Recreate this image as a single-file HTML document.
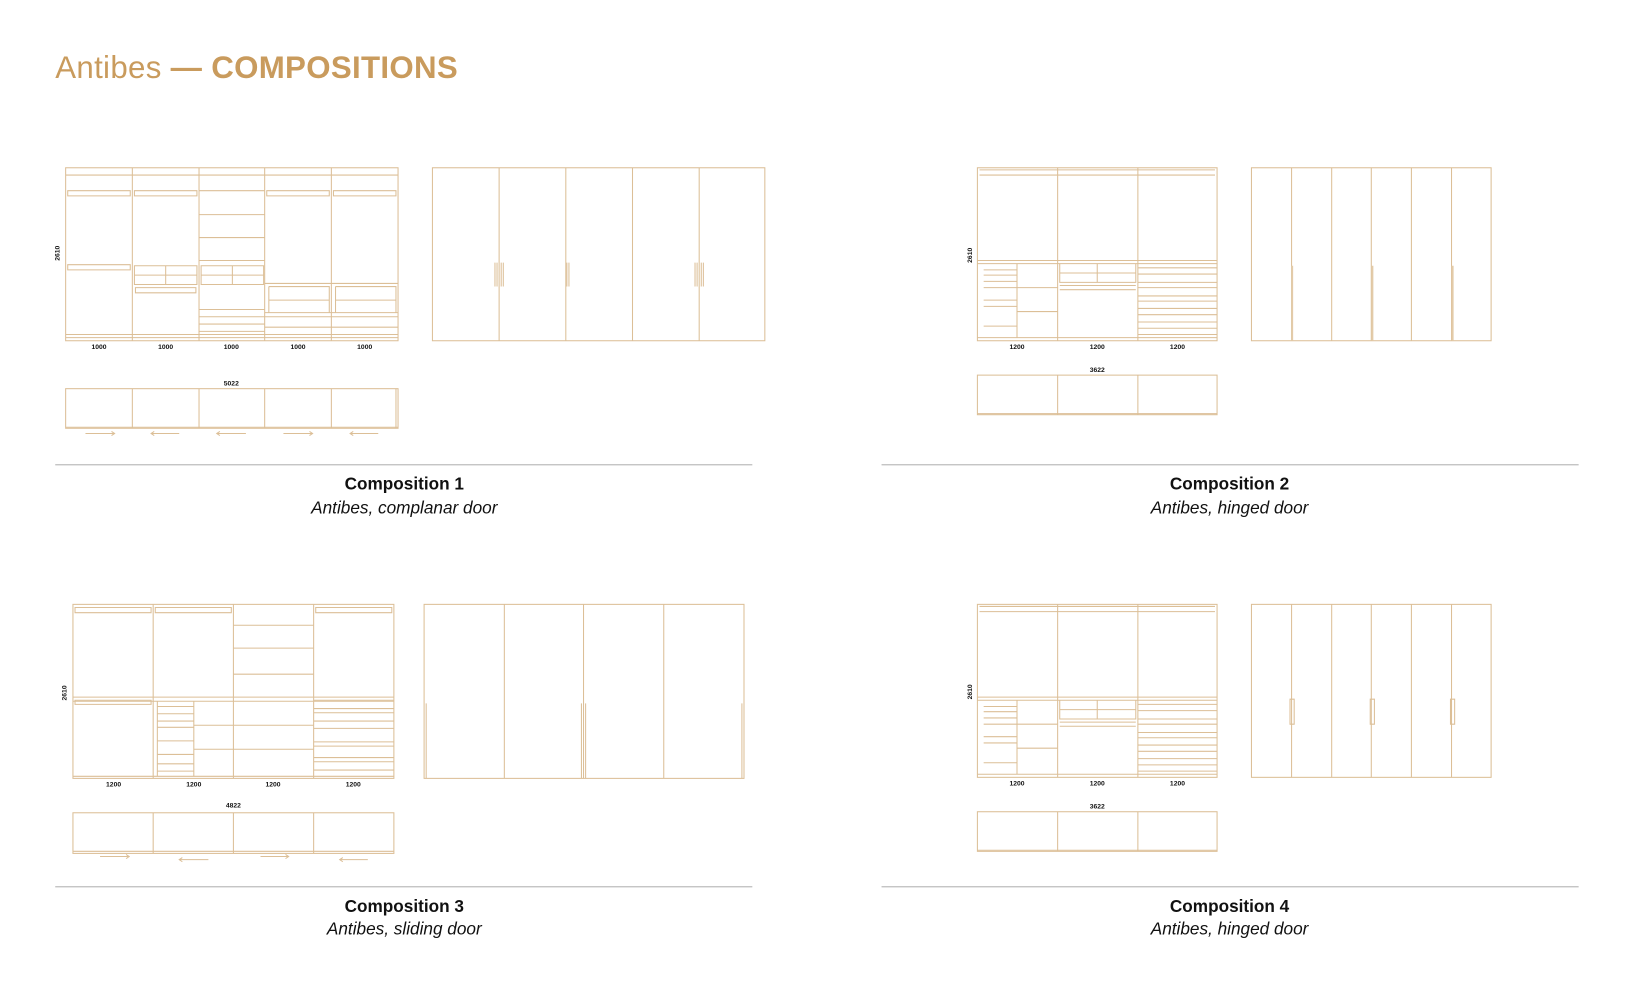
<!DOCTYPE html>
<html><head><meta charset="utf-8"><style>
html,body{margin:0;padding:0;background:#fff;}
svg{display:block}
.l{stroke:#dcbf97;stroke-width:1;fill:none}
.t{stroke:#e3cba9;stroke-width:2;fill:none}
.d{font-family:"Liberation Sans",sans-serif;font-size:6.5px;font-weight:bold;fill:#111;text-anchor:middle}
.h{font-family:"Liberation Sans",sans-serif;font-size:16.5px;font-weight:bold;fill:#111;text-anchor:middle}
.s{font-family:"Liberation Sans",sans-serif;font-size:16.5px;font-style:italic;fill:#111;text-anchor:middle}
</style></head><body>
<svg width="1637" height="992" viewBox="0 0 1571 952" preserveAspectRatio="none" xmlns="http://www.w3.org/2000/svg">
<defs>
<g id="f3">
 <rect class="l" x="938" y="161" width="230" height="166"/>
 <path class="l" d="M1015 161V327M1092 161V327M940 163H1166M940 168H1166M938 250H1168M938 253H1168M938 324H1168"/>
 <path class="l" d="M976 253V324M944 259H976M944 264H976M944 270H976M944 276H976M944 288H976M944 294H976M944 313H976M976 276H1015M976 299H1015"/>
 <path class="l" d="M1017 253V271H1090V253M1053 253V271M1017 262H1090M1017 274H1090M1017 278H1090"/>
 <path class="l" d="M1092 257H1168M1092 263H1168M1092 271H1168M1092 276H1168M1092 284H1168M1092 289H1168M1092 296H1168M1092 302H1168M1092 309H1168M1092 315H1168M1092 321H1168"/>
 <text class="d" x="976" y="335">1200</text><text class="d" x="1053" y="335">1200</text><text class="d" x="1130" y="335">1200</text>
 <text class="d" transform="translate(933,245) rotate(-90)">2610</text>
 <text class="d" x="1053" y="357">3622</text>
 <rect class="l" x="938" y="360" width="230" height="38"/>
 <path class="l" d="M1015 360V398M1092 360V398M938 397H1168"/>
 <rect class="l" x="1201" y="161" width="230" height="166"/>
 <path class="l" d="M1239.5 161V327M1278 161V327M1316 161V327M1354.5 161V327M1393 161V327"/>
</g>
</defs>

<text x="53" y="75" font-family="Liberation Sans, sans-serif" font-size="30" letter-spacing="0.3" fill="#c99b5d"><tspan>Antibes </tspan><tspan font-weight="bold">— COMPOSITIONS</tspan></text>

<!-- Composition 1 -->
<rect class="l" x="63" y="161" width="319" height="166"/>
<path class="l" d="M127 161V327M191 161V327M254 161V327M318 161V327M63 168H382M63 321H382M63 324H382"/>
<path class="l" d="M65 183H125V188H65ZM129 183H189V188H129ZM256 183H316V188H256ZM320 183H380V188H320ZM65 254H125V259H65Z"/>
<path class="l" d="M191 183H254M191 206H254M191 228H254M191 250H254"/>
<path class="l" d="M129 255H189V273H129ZM159 255V273M129 264H189M130 276H188V281H130Z"/>
<path class="l" d="M193 255H253V273H193ZM223 255V273M193 264H253M191 297H254M191 304H254M191 311H254M191 318H254"/>
<path class="l" d="M254 272H382M258 275H316V300M258 275V300M258 288H316M322 275H380V300M322 275V300M322 288H380M254 300H382M254 304H382M254 314H382"/>
<text class="d" x="95" y="335">1000</text><text class="d" x="159" y="335">1000</text><text class="d" x="222" y="335">1000</text><text class="d" x="286" y="335">1000</text><text class="d" x="350" y="335">1000</text>
<text class="d" transform="translate(57,243) rotate(-90)">2610</text>
<text class="d" x="222" y="370">5022</text>
<rect class="l" x="63" y="373" width="319" height="38"/>
<path class="l" d="M127 373V411M191 373V411M254 373V411M318 373V411M63 410H382M380 373V411"/>
<path class="l" d="M82 416H110M107 414L110 416L107 418M145 416H172M148 414L145 416L148 418M208 416H236M211 414L208 416L211 418M272 416H300M297 414L300 416L297 418M336 416H363M339 414L336 416L339 418"/>
<rect class="l" x="415" y="161" width="319" height="166"/>
<path class="l" d="M479 161V327M543 161V327M607 161V327M671 161V327"/>
<path class="l" d="M475 252V275M477 252V275M481 252V275M483 252V275M544 252V275M546 252V275M667 252V275M669 252V275M673 252V275M675 252V275"/>
<path d="M53 446H722" stroke="#bdbdbd" stroke-width="1.2"/>
<text class="h" x="388" y="470">Composition 1</text>
<text class="s" x="388" y="493">Antibes, complanar door</text>

<!-- Composition 2 -->
<use href="#f3"/>
<path class="t" d="M1240 255V327M1317 255V327M1394 255V327"/>
<path d="M846 446H1515" stroke="#bdbdbd" stroke-width="1.2"/>
<text class="h" x="1180" y="470">Composition 2</text>
<text class="s" x="1180" y="493">Antibes, hinged door</text>

<!-- Composition 4 -->
<use href="#f3" transform="translate(0,419)"/>
<path class="l" d="M1238 671H1242V695H1238ZM1315 671H1319V695H1315ZM1392 671H1396V695H1392Z"/>
<path d="M846 851H1515" stroke="#bdbdbd" stroke-width="1.2"/>
<text class="h" x="1180" y="875">Composition 4</text>
<text class="s" x="1180" y="897">Antibes, hinged door</text>

<!-- Composition 3 -->
<rect class="l" x="70" y="580" width="308" height="167"/>
<path class="l" d="M147 580V747M224 580V747M301 580V747M70 745H378M70 669H378M70 673H378"/>
<path class="l" d="M72 583H145V588H72ZM149 583H222V588H149ZM303 583H376V588H303ZM72 672H145V676H72Z"/>
<path class="l" d="M224 600H301M224 622H301M224 647H301M224 696H301M224 719H301"/>
<path class="l" d="M151 673V745M186 673V745M151 678H186M151 685H186M151 692H186M151 698H186M151 711H186M151 724H186M151 733H186M151 740H186M186 696H224M186 719H224"/>
<path class="l" d="M301 672H378M301 680H378M301 684H378M301 692H378M301 699H378M301 712H378M301 716H378M301 727H378M301 731H378M301 739H378"/>
<text class="d" x="109" y="755">1200</text><text class="d" x="186" y="755">1200</text><text class="d" x="262" y="755">1200</text><text class="d" x="339" y="755">1200</text>
<text class="d" transform="translate(64,665) rotate(-90)">2610</text>
<text class="d" x="224" y="775">4822</text>
<rect class="l" x="70" y="780" width="308" height="39"/>
<path class="l" d="M147 780V819M224 780V819M301 780V819M70 817H378"/>
<path class="l" d="M96 822H124M121 820L124 822L121 824M172 825H200M175 823L172 825L175 827M250 822H277M274 820L277 822L274 824M326 825H353M329 823L326 825L329 827"/>
<rect class="l" x="407" y="580" width="307" height="167"/>
<path class="l" d="M484 580V747M560 580V747M637 580V747M409 675V747M558 675V747M562 675V747M712 675V747"/>
<path d="M53 851H722" stroke="#bdbdbd" stroke-width="1.2"/>
<text class="h" x="388" y="875">Composition 3</text>
<text class="s" x="388" y="897">Antibes, sliding door</text>
</svg>
</body></html>
